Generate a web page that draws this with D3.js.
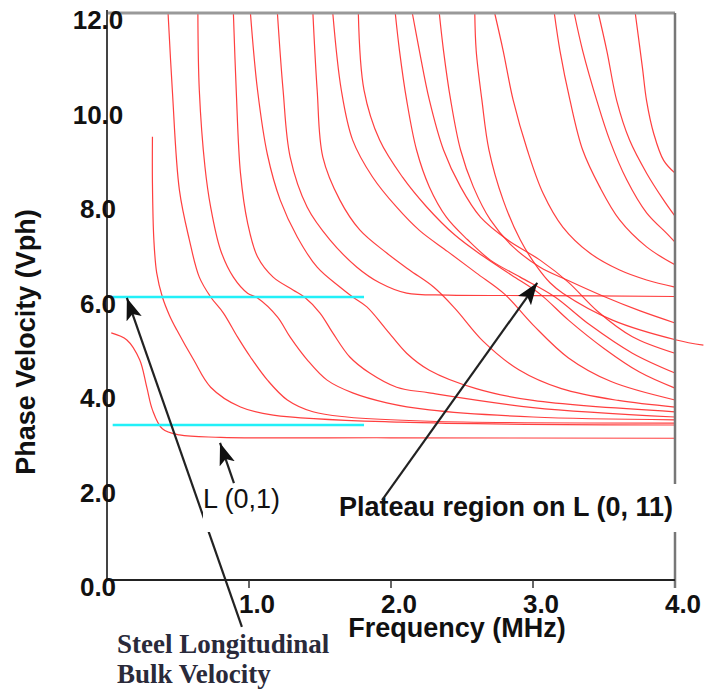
<!DOCTYPE html>
<html lang="en">
<head>
<meta charset="UTF-8">
<script src="https://d3js.org/d3.v7.min.js"></script>
<title>Phase velocity dispersion</title>
<style>
  body { margin: 0; background: #fff; }
</style>
</head>
<body>
<div id="chart"></div>
<script>
// ticks
var xTicks = [1, 2, 3, 4];
var yTicks = [0, 2, 4, 6, 8, 10, 12];

// steel bulk velocities (cyan lines) and the frequency span they cover
var bulkSpan = [0.04, 1.81];
var bulkLongitudinal = 5.99;
var bulkShear = 3.28;

// dispersion curves: [frequency (MHz), phase velocity]
var mode01 = [[0.03,5.23],[0.14,5.08],[0.23,4.66],[0.28,4.08],[0.32,3.6],[0.39,3.2],[0.51,3.07],[0.8,3.02],[2.0,3.01],[4.0,3.0]];
var mode02 = [[0.32,9.38],[0.32,8.4],[0.33,7.2],[0.35,6.5],[0.39,5.99],[0.44,5.6],[0.49,5.3],[0.61,4.66],[0.73,4.08],[0.94,3.66],[1.17,3.49],[2.06,3.34],[4.0,3.28]];
var mode03 = [[0.43,12],[0.46,10.37],[0.51,8.25],[0.58,7.2],[0.65,6.41],[0.73,5.99],[0.82,5.65],[0.92,5.14],[1.01,4.72],[1.13,4.23],[1.27,3.81],[1.45,3.56],[1.69,3.45],[2.27,3.36],[4.0,3.32]];
var mode04 = [[0.64,12],[0.65,10.37],[0.69,8.74],[0.73,7.89],[0.80,6.98],[0.89,6.41],[0.99,6.07],[1.06,5.97],[1.20,5.57],[1.29,5.14],[1.41,4.66],[1.55,4.23],[1.73,3.96],[1.97,3.75],[2.27,3.6],[3.0,3.45],[4.0,3.39]];
var mode05 = [[0.89,12],[0.91,10.37],[0.94,8.61],[0.99,7.56],[1.06,6.84],[1.17,6.41],[1.31,6.14],[1.39,5.99],[1.50,5.65],[1.59,5.23],[1.71,4.72],[1.85,4.38],[2.04,4.08],[2.27,3.96],[3.0,3.65],[4.0,3.45]];
var mode06 = [[1.01,12],[1.06,10.37],[1.13,9.0],[1.22,8.04],[1.34,7.26],[1.48,6.62],[1.64,6.2],[1.73,5.99],[1.83,5.78],[1.97,5.29],[2.11,4.8],[2.27,4.44],[2.6,4.05],[3.0,3.8],[4.0,3.56]];
var mode07 = [[1.20,12],[1.24,10.37],[1.29,8.95],[1.41,7.89],[1.57,7.2],[1.76,6.62],[1.92,6.29],[2.11,6.07],[2.4,6.03],[3.0,6.02],[4.0,6.0]];
var mode08 = [[1.45,12],[1.48,10.37],[1.52,8.95],[1.64,8.04],[1.78,7.41],[1.97,6.92],[2.13,6.56],[2.3,6.2],[2.45,5.75],[2.65,5.05],[2.9,4.45],[3.2,4.05],[3.6,3.8],[4.0,3.66]];
var mode09 = [[1.59,12],[1.65,10.37],[1.73,9.31],[1.87,8.53],[2.04,7.89],[2.2,7.4],[2.4,6.95],[2.6,6.5],[2.8,6.05],[3.0,5.4],[3.25,4.7],[3.55,4.2],[4.0,3.81]];
var mode10 = [[1.77,12],[1.81,10.37],[1.92,9.31],[2.08,8.53],[2.25,7.9],[2.45,7.3],[2.65,6.85],[2.85,6.45],[3.05,6.05],[3.25,5.5],[3.5,4.9],[3.75,4.4],[4.0,4.06]];
var mode11 = [[2.03,12],[2.06,11.2],[2.11,10.16],[2.18,9.1],[2.27,8.32],[2.39,7.68],[2.54,7.2],[2.7,6.77],[2.91,6.41],[3.15,6.0],[3.4,5.4],[3.7,4.8],[4.0,4.38]];
var mode12 = [[2.15,12],[2.2,11.2],[2.27,10.16],[2.37,9.1],[2.49,8.32],[2.63,7.68],[2.82,7.2],[3.05,6.77],[3.25,6.3],[3.45,5.7],[3.7,5.15],[4.0,4.8]];
var mode13 = [[2.34,12],[2.37,11.2],[2.42,10.16],[2.49,9.1],[2.58,8.32],[2.7,7.62],[2.86,7.05],[3.05,6.62],[3.24,6.35],[3.5,6.0],[3.75,5.7],[4.0,5.44]];
var mode14 = [[2.59,12],[2.6,11.2],[2.64,10.16],[2.69,9.1],[2.79,8.04],[2.91,7.2],[3.03,6.62],[3.12,6.29],[3.21,6.07],[3.56,5.5],[4.01,5.08],[4.2,4.97]];
var mode15 = [[2.73,12],[2.79,11.2],[2.86,10.16],[2.96,9.1],[3.07,8.19],[3.21,7.47],[3.4,6.92],[3.61,6.56],[3.8,6.35],[4.0,6.2]];
var mode16 = [[3.15,12],[3.19,11.2],[3.26,10.16],[3.35,9.1],[3.47,8.32],[3.61,7.62],[3.8,7.05],[4.0,6.67]];
var mode17 = [[3.29,12],[3.35,11.2],[3.45,10.14],[3.54,9.31],[3.66,8.47],[3.8,7.77],[3.94,7.34],[4.0,7.15]];
var mode18 = [[3.46,12],[3.52,11.2],[3.59,10.14],[3.68,9.31],[3.8,8.61],[3.92,8.04],[4.0,7.7]];
var mode19 = [[3.72,12],[3.77,10.86],[3.8,10.14],[3.85,9.45],[3.92,8.88],[4.0,8.61]];

var modes = [mode01, mode02, mode03, mode04, mode05, mode06, mode07, mode08, mode09, mode10,
             mode11, mode12, mode13, mode14, mode15, mode16, mode17, mode18, mode19];

var W = 704, H = 694;
var sans = "'Liberation Sans', Arial, sans-serif";
var serif = "'Liberation Serif', 'Times New Roman', serif";

var svg = d3.select("#chart").append("svg")
    .attr("width", W).attr("height", H)
    .style("display", "block");

svg.append("rect").attr("width", W).attr("height", H).attr("fill", "#fff");

var x = d3.scaleLinear().domain([0, 4]).range([107, 675]);
var y = d3.scaleLinear().domain([0, 12]).range([580, 13]);

// arrow head
svg.append("defs").append("marker")
    .attr("id", "head")
    .attr("markerUnits", "userSpaceOnUse")
    .attr("markerWidth", 24).attr("markerHeight", 18)
    .attr("refX", 22).attr("refY", 8)
    .attr("orient", "auto")
  .append("path")
    .attr("d", "M0,0 L22,8 L0,16 L5,8 Z")
    .attr("fill", "#111");

// curves
var line = d3.line()
    .x(function (d) { return x(d[0]); })
    .y(function (d) { return y(d[1]); })
    .curve(d3.curveCatmullRom.alpha(0.5));

svg.append("g").selectAll("path")
    .data(modes)
    .enter().append("path")
    .attr("d", line)
    .attr("fill", "none")
    .attr("stroke", "#ff2a2a")
    .attr("stroke-width", 1.2)
    .attr("stroke-opacity", 0.9);

// bulk velocity lines
svg.append("g").selectAll("line")
    .data([bulkLongitudinal, bulkShear])
    .enter().append("line")
    .attr("x1", x(bulkSpan[0])).attr("x2", x(bulkSpan[1]))
    .attr("y1", function (d) { return y(d); })
    .attr("y2", function (d) { return y(d); })
    .attr("stroke", "#22f0f8")
    .attr("stroke-width", 2.4);

// frame
svg.append("line")
    .attr("x1", x(0)).attr("x2", x(4)).attr("y1", y(12)).attr("y2", y(12))
    .attr("stroke", "#999").attr("stroke-width", 3);
svg.append("line")
    .attr("x1", x(4)).attr("x2", x(4)).attr("y1", y(12)).attr("y2", y(0) + 8)
    .attr("stroke", "#777").attr("stroke-width", 2.5);
svg.append("line")
    .attr("x1", x(0)).attr("x2", x(0)).attr("y1", y(12) - 3).attr("y2", y(0))
    .attr("stroke", "#444").attr("stroke-width", 2);
svg.append("line")
    .attr("x1", x(0)).attr("x2", x(4)).attr("y1", y(0)).attr("y2", y(0))
    .attr("stroke", "#222").attr("stroke-width", 2);

// x ticks
svg.append("g").selectAll("line")
    .data(xTicks.slice(0, 3))
    .enter().append("line")
    .attr("x1", x).attr("x2", x)
    .attr("y1", y(0)).attr("y2", y(0) + 8)
    .attr("stroke", "#333").attr("stroke-width", 1.5);

svg.append("g").selectAll("text")
    .data(xTicks)
    .enter().append("text")
    .attr("x", function (d) { return x(d) + 8; })
    .attr("y", 613)
    .attr("text-anchor", "middle")
    .style("font-family", sans).style("font-weight", "bold").style("font-size", "26px")
    .attr("fill", "#111")
    .text(function (d) { return d.toFixed(1); });

svg.append("g").selectAll("text")
    .data(yTicks)
    .enter().append("text")
    .attr("x", 98)
    .attr("y", function (d) { return y(d) + 16; })
    .attr("text-anchor", "middle")
    .style("font-family", sans).style("font-weight", "bold").style("font-size", "26px")
    .attr("fill", "#111")
    .text(function (d) { return d.toFixed(1); });

// axis titles
svg.append("text")
    .attr("x", 457).attr("y", 637)
    .attr("text-anchor", "middle")
    .style("font-family", sans).style("font-weight", "bold").style("font-size", "27px")
    .attr("fill", "#111")
    .text("Frequency (MHz)");

svg.append("text")
    .attr("transform", "translate(35,342) rotate(-90)")
    .attr("text-anchor", "middle")
    .style("font-family", sans).style("font-weight", "bold").style("font-size", "27px")
    .attr("fill", "#111")
    .text("Phase Velocity (Vph)");

// annotations
function arrow(from, to) {
    svg.append("line")
        .attr("x1", x(from[0])).attr("y1", y(from[1]))
        .attr("x2", x(to[0])).attr("y2", y(to[1]))
        .attr("stroke", "#222").attr("stroke-width", 2.2)
        .attr("marker-end", "url(#head)");
}

arrow([0.95, -0.99], [0.14, 5.97]);
arrow([0.894, 2.05], [0.796, 2.9]);

svg.append("rect").attr("x", 203).attr("y", 486).attr("width", 88).attr("height", 46).attr("fill", "#fff");
svg.append("text")
    .attr("x", 203).attr("y", 508)
    .style("font-family", sans).style("font-size", "27px")
    .attr("fill", "#111")
    .text("L (0,1)");

svg.append("rect").attr("x", 336).attr("y", 484).attr("width", 352).attr("height", 48).attr("fill", "#fff");
svg.append("text")
    .attr("x", 339).attr("y", 516)
    .style("font-family", sans).style("font-weight", "bold").style("font-size", "27px")
    .attr("fill", "#111")
    .text("Plateau region on L (0, 11)");

arrow([1.937, 1.69], [3.03, 6.29]);

svg.append("g").selectAll("text")
    .data(["Steel Longitudinal", "Bulk Velocity"])
    .enter().append("text")
    .attr("x", 117)
    .attr("y", function (d, i) { return 653 + i * 30; })
    .style("font-family", serif).style("font-weight", "bold").style("font-size", "27px")
    .attr("fill", "#2a2a3a")
    .text(function (d) { return d; });
</script>
</body>
</html>
